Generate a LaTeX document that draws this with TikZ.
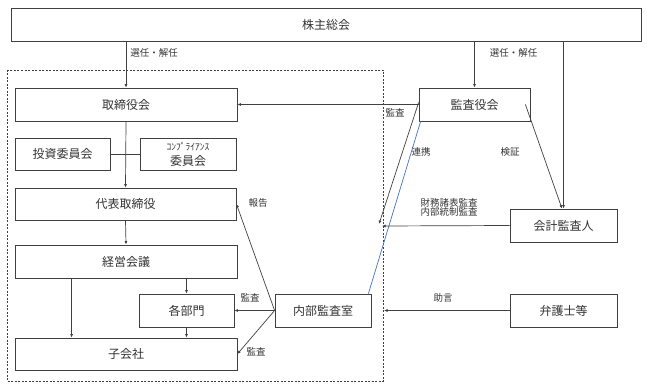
\documentclass[tikz,border=0pt]{standalone}
\usepackage{fontspec}
\setmainfont{Noto Sans CJK JP}
\usepackage{xcolor}
\usepackage{tikz}
\usetikzlibrary{arrows.meta,calc}
\definecolor{orgLine}{HTML}{404040}
\definecolor{orgText}{HTML}{333333}
\definecolor{orgBlue}{HTML}{4472C4}
\tikzset{
  unit/.style={rectangle, draw=orgLine, line width=0.8pt, fill=white, text=orgText, align=center, inner sep=0pt, font=\fontsize{12}{14}\selectfont},
  lbl/.style={text=orgText, inner sep=1pt, align=center, font=\fontsize{9.5}{11}\selectfont},
  arrow/.style={-{Latex[length=3.5pt,width=3pt]}, line width=0.7pt, draw=orgLine},
  link/.style={line width=0.7pt, draw=orgLine},
  bluelink/.style={line width=0.7pt, draw=orgBlue},
  groupline/.style={dashed, line width=0.7pt, draw=orgLine, dash pattern=on 2pt off 1.5pt}
}

\begin{document}
\begin{tikzpicture}[x=1pt,y=-1pt]
\useasboundingbox (0,0) rectangle (647,387);
% governance group
\draw[groupline] (7,70) rectangle (383,381);
\node[unit, minimum width=630pt, minimum height=33pt] (soukai) at (326,24.5) {株主総会};
\node[unit, minimum width=222pt, minimum height=33pt] (torishimari) at (126,104.5) {取締役会};
\node[unit, minimum width=111pt, minimum height=33pt] (kansayaku) at (474.5,104.5) {監査役会};
\node[unit, minimum width=95pt, minimum height=32pt] (toushi) at (62.5,154) {投資委員会};
\node[unit, minimum width=96pt, minimum height=32pt] (compliance) at (188,154) {{\fontsize{9.5}{10}\selectfont ｺﾝﾌﾟﾗｲｱﾝｽ}\\[1pt]委員会};
\node[unit, minimum width=221pt, minimum height=32pt] (daihyo) at (125.5,204) {代表取締役};
\node[unit, minimum width=107pt, minimum height=33pt] (kaikei) at (563.5,225.5) {会計監査人};
\node[unit, minimum width=222pt, minimum height=33pt] (keiei) at (126,261.5) {経営会議};
\node[unit, minimum width=95pt, minimum height=33pt] (bumon) at (186.5,310.5) {各部門};
\node[unit, minimum width=96pt, minimum height=33pt] (naibu) at (323,310.5) {内部監査室};
\node[unit, minimum width=107pt, minimum height=33pt] (bengoshi) at (563.5,310.5) {弁護士等};
\node[unit, minimum width=222pt, minimum height=32pt] (kogaisha) at (126,354) {子会社};
\coordinate (renkeiEnd) at (379,224);
\coordinate (kansaEnd) at (382,226);
\coordinate (jogenEnd) at (384,310.5);
% appointment
\draw[arrow] (soukai.south -| torishimari.north) -- node[lbl, pos=0.25, right=3pt] {選任・解任} (torishimari.north);
\draw[arrow] (soukai.south -| kansayaku.north) -- node[lbl, pos=0.25, right=14pt] {選任・解任} (kansayaku.north);
\draw[arrow] (soukai.south -| kaikei.north) -- (kaikei.north);
% board line
\draw[arrow] (torishimari.south) -- (daihyo.north);
\draw[link] (toushi.east) -- (compliance.west);
\draw[arrow] (daihyo.south) -- (keiei.north);
\draw[arrow] (keiei.south -| bumon.north) -- (bumon.north);
\draw[arrow] ([xshift=57pt]keiei.south west) -- ([xshift=57pt]kogaisha.north west);
\draw[arrow] (bumon.south) -- (bumon.south |- kogaisha.north);
% audit
\draw[arrow] (kansayaku.west) -- node[lbl, pos=0.13, below=3pt] {監査} (torishimari.east);
\draw[arrow] ([yshift=2pt]kansayaku.west) -- (renkeiEnd);
\draw[bluelink] ([xshift=2pt]kansayaku.south west) -- ([xshift=-3pt]naibu.north east);
\draw[arrow] ([xshift=-5pt]kansayaku.east) -- ([xshift=-1.5pt]kaikei.north);
\draw[arrow] (kaikei.west) -- (kansaEnd);
\draw[arrow] (bengoshi.west) -- (jogenEnd);
\draw[arrow] (naibu.west) -- (bumon.east);
\draw[arrow] (naibu.west) -- (kogaisha.east);
\draw[arrow] (naibu.west) -- (daihyo.east);
% labels
\node[lbl] (renkei) at (421,152) {連携};
\node[lbl] (kenshou) at (510,152) {検証};
\node[lbl] (zaimu) at (449,207) {財務諸表監査\\[-2pt]内部統制監査};
\node[lbl] (houkoku) at (258,203) {報告};
\node[lbl] (kansaA) at (250,298) {監査};
\node[lbl] (kansaB) at (256,352) {監査};
\node[lbl] (jogen) at (443,298) {助言};
\end{tikzpicture}
\end{document}
